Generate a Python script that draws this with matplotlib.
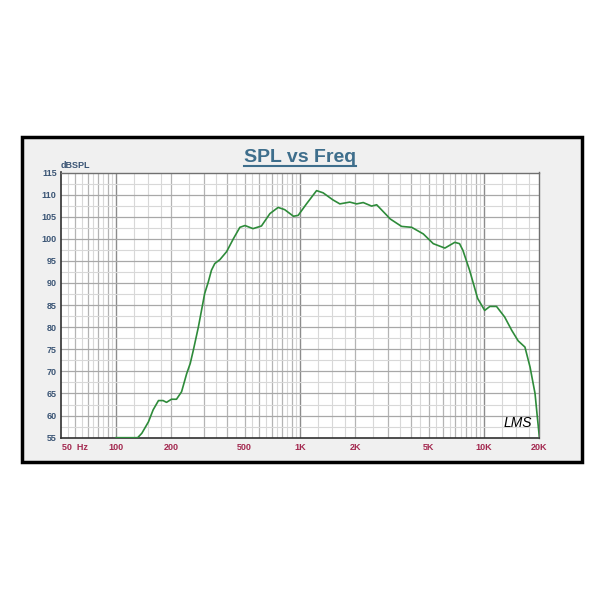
import matplotlib
matplotlib.use("Agg")
import matplotlib.pyplot as plt
from matplotlib.patches import Rectangle
from matplotlib.lines import Line2D

freq = [100, 131, 138, 150, 159, 170, 180, 188, 200, 213, 227, 242, 253, 263,
        280, 295, 303, 317, 330, 344, 367, 399, 434, 471, 502, 555, 617, 686,
        760, 825, 921, 977, 1084, 1230, 1335, 1510, 1646, 1864, 2032, 2206,
        2450, 2610, 2965, 3090, 3565, 4045, 4680, 5300, 6130, 6940, 7365,
        7680, 8350, 9240, 10090, 10770, 11700, 12960, 14150, 15350, 16700,
        17800, 18950, 19500, 20000]
spl = [55, 55, 56, 58.6, 61.3, 63.4, 63.4, 63.0, 63.7, 63.7, 65.4, 69.5, 71.8,
       74.8, 80, 85, 87.6, 90.2, 92.9, 94.4, 95.3, 97.1, 100, 102.6, 103,
       102.3, 102.9, 105.7, 107.1, 106.6, 105.1, 105.3, 107.9, 110.9, 110.4,
       108.8, 107.9, 108.3, 107.9, 108.2, 107.4, 107.7, 105.3, 104.5, 102.8,
       102.6, 101.1, 98.9, 97.9, 99.2, 98.9, 97.4, 92.9, 86.5, 83.8, 84.7,
       84.7, 82.3, 79.3, 76.9, 75.5, 71, 65, 59.7, 55.2]

x_ticks = [100, 200, 500, 1000, 2000, 5000, 10000, 20000]
x_labels = ["100", "200", "500", "1K", "2K", "5K", "10K", "20K"]
y_ticks = list(range(55, 116, 5))

plt.rcParams['font.family'] = ['Liberation Sans', 'DejaVu Sans']

fig = plt.figure(figsize=(6, 6), dpi=100)
fig.patch.set_facecolor("white")

# grey panel with black frame
fig.patches.append(Rectangle((0.037, 0.230), 0.933, 0.542, transform=fig.transFigure,
                             facecolor="#f0f0f0", edgecolor="black", linewidth=2.5,
                             zorder=0))

ax = fig.add_axes([0.1012, 0.2705, 0.7977, 0.442])
ax.set_zorder(2)
ax.set_facecolor("white")
ax.set_xscale("log")
ax.set_xlim(50, 20000)
ax.set_ylim(55, 115)

# vertical grid
steps = [1, 1.25, 1.5, 1.75, 2, 2.5, 3, 3.5, 4, 4.5, 5, 5.5, 6, 6.5, 7, 7.5, 8, 8.5, 9, 9.5]
for dec in [10, 100, 1000, 10000]:
    for s in steps:
        f = s * dec
        if f <= 50 or f >= 20000:
            continue
        if s == 1:
            c, lw = "#8c8c8c", 1.0
        elif s == int(s):
            c, lw = "#b4b4b4", 0.9
        else:
            c, lw = "#d8d8d8", 0.8
        ax.axvline(f, color=c, lw=lw, zorder=1)

# horizontal grid
for i in range(1, 24):
    v = 55 + i * 2.5
    if i % 2 == 0:
        ax.axhline(v, color="#a8a8a8", lw=0.9, zorder=1)
    else:
        ax.axhline(v, color="#d8d8d8", lw=0.8, zorder=1)

ax.plot(freq, spl, color="#2e8b3a", lw=1.2, zorder=3)

ax.set_xticks(x_ticks)
ax.set_xticklabels(x_labels)
ax.minorticks_off()
ax.set_yticks(y_ticks)
ax.tick_params(axis="x", length=0, pad=4, labelsize=6.5, labelcolor="#a3284f")
ax.tick_params(axis="y", length=0, pad=3, labelsize=6.5, labelcolor="#3b5575")
for lab in ax.get_xticklabels() + ax.get_yticklabels():
    lab.set_fontweight("bold")

ax.annotate("50  Hz", xy=(0, 0), xycoords="axes fraction", xytext=(1, -4),
            textcoords="offset points", ha="left", va="top", fontsize=6.5,
            fontweight="bold", color="#a3284f")

ax.annotate("dBSPL", xy=(0, 1), xycoords="axes fraction", xytext=(0, 2),
            textcoords="offset points", ha="left", va="bottom", fontsize=6.5,
            fontweight="bold", color="#3b5575")

ax.text(0.985, 0.03, "LMS", transform=ax.transAxes, ha="right", va="bottom",
        fontsize=10, fontstyle="italic", color="black", zorder=4)

for side in ["left", "bottom"]:
    ax.spines[side].set_color("#303030")
    ax.spines[side].set_linewidth(1.2)
for side in ["top", "right"]:
    ax.spines[side].set_color("#707070")
    ax.spines[side].set_linewidth(1.0)

title = fig.text(0.5, 0.738, "SPL vs Freq", ha="center", va="center",
                 fontsize=14, fontweight="bold", color="#3e6e8c")
fig.canvas.draw()
bb = title.get_window_extent().transformed(fig.transFigure.inverted())
fig.lines.append(Line2D([bb.x0, bb.x1], [bb.y0 - 0.001, bb.y0 - 0.001],
                        transform=fig.transFigure, color="#3e6e8c", lw=1.5))

fig.savefig("out.png", dpi=100, facecolor="white")
